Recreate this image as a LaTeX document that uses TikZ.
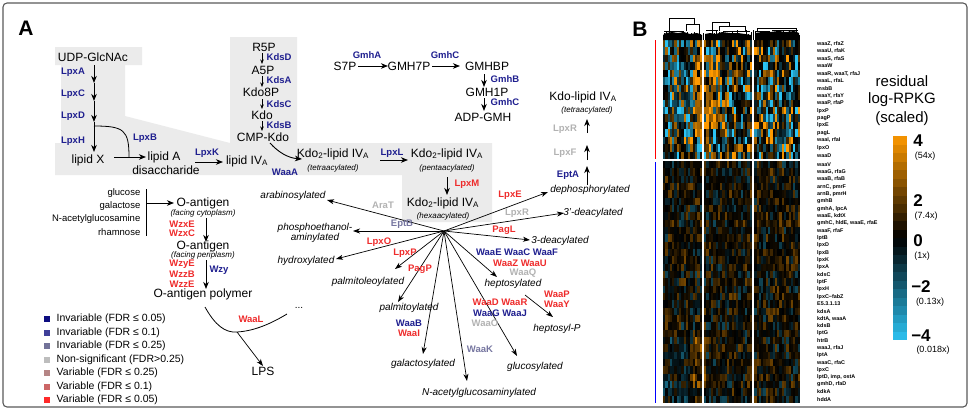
\documentclass[tikz,border=0pt]{standalone}
\usepackage{fontspec}
\setmainfont{Liberation Sans}
\usetikzlibrary{arrows.meta}
\definecolor{eblue}{HTML}{1F1F8F}
\definecolor{ered}{HTML}{EE2B2B}
\definecolor{egray}{HTML}{B2B2B2}
\definecolor{egbc}{HTML}{7676A0}
\definecolor{bgg}{HTML}{EBEBEB}
\definecolor{hmO}{HTML}{FF9A00}
\definecolor{hmC}{HTML}{2CC4F4}
\definecolor{lg1}{HTML}{0D0D80}
\definecolor{lg2}{HTML}{3F3F99}
\definecolor{lg3}{HTML}{737399}
\definecolor{lg4}{HTML}{BDBDBD}
\definecolor{lg5}{HTML}{B58585}
\definecolor{lg6}{HTML}{CC6666}
\definecolor{lg7}{HTML}{FF2A2A}
\begin{document}
\begin{tikzpicture}[x=1pt,y=-1pt,
 met/.style={font=\fontsize{12}{13}\selectfont, inner sep=0.5pt},
 enz/.style={font=\bfseries\fontsize{9.5}{10}\selectfont, inner sep=0.5pt},
 eb/.style={enz,text=eblue}, er/.style={enz,text=ered},
 eg/.style={enz,text=egray}, egbl/.style={enz,text=egbc},
 modl/.style={font=\itshape\fontsize{10}{10}\selectfont, inner sep=0.5pt},
 subl/.style={font=\itshape\fontsize{8}{9}\selectfont, inner sep=0.5pt},
 arr/.style={-{Stealth[length=7pt,width=5.5pt,inset=2pt]}, line width=0.9pt},
 sarr/.style={-{Stealth[length=4.5pt,width=3.5pt]}, line width=0.6pt},
 rarr/.style={-{Stealth[length=7pt,width=5pt,inset=2pt]}, line width=0.7pt},
 hml/.style={font=\bfseries\fontsize{5.4}{6}\selectfont, anchor=west, inner sep=0pt},
 sug/.style={font=\fontsize{9.5}{10}\selectfont, anchor=east, inner sep=0.5pt},
 lgt/.style={font=\fontsize{10.5}{11}\selectfont, anchor=west, inner sep=0.5pt},
 cbn/.style={font=\bfseries\fontsize{17}{17}\selectfont, inner sep=0pt},
 cbx/.style={font=\fontsize{9}{9}\selectfont, inner sep=0pt}
]
\useasboundingbox (0,0) rectangle (970,410);
\draw[line width=1.1pt, black!65, rounded corners=4pt] (3,3) rectangle (967,407);

% gray background
\fill[bgg] (55,47) -- (142,47) -- (142,65) -- (125,65) -- (125,116) -- (230,143) -- (230,37) -- (297,37) -- (297,143) -- (492,143) -- (492,222) -- (402,222) -- (402,175) -- (55,175) -- (55,143) -- (61,143) -- (61,65) -- (55,65) -- cycle;

\node[font=\bfseries\fontsize{21}{21}\selectfont] (labA) at (26,28) {A};
\node[font=\bfseries\fontsize{21}{21}\selectfont] (labB) at (640,29) {B};

% lipid A chain
\node[met] (udp) at (93,57) {UDP-GlcNAc};
\coordinate (c0) at (94,65); \coordinate (c1) at (94,83); \coordinate (c2) at (94,101);
\coordinate (c3) at (94,122); \coordinate (c4) at (94,152);
\draw[arr] (c0)--(c1); \draw[arr] (c1)--(c2); \draw[arr] (c2)--(c3); \draw[arr] (c3)--(c4);
\node[eb] (lpxA) at (73,72) {LpxA};
\node[eb] (lpxC) at (73,94) {LpxC};
\node[eb] (lpxD) at (73,116) {LpxD};
\node[eb] (lpxH) at (73,141) {LpxH};
\node[met] (lipx) at (88,160) {lipid X};
\coordinate (bst) at (94,126); \coordinate (bend) at (129,157);
\draw[line width=0.8pt] (bst) .. controls (124,126) and (129,130) .. (bend);
\node[eb] (lpxB) at (145,138) {LpxB};
\coordinate (xa1) at (114,157); \coordinate (xa2) at (146,157);
\draw[arr] (xa1)--(xa2);
\node[met] (lipa) at (164,157) {lipid A};
\node[met] (disac) at (166,170) {disaccharide};
\node[eb] (lpxK) at (207,153) {LpxK};
\coordinate (k1) at (195,162); \coordinate (k2) at (223,162);
\draw[arr] (k1)--(k2);
\node[met] (liv) at (247,161) {lipid IV\textsubscript{A}};

% Kdo chain
\node[met] (r5p) at (264,47) {R5P};
\node[met] (a5p) at (263,70) {A5P};
\node[met] (kdo8p) at (261,92) {Kdo8P};
\node[met] (kdo) at (262,115) {Kdo};
\node[met] (cmpkdo) at (263,137) {CMP-Kdo};
\coordinate (d1) at (262,53); \coordinate (d2) at (262,64);
\coordinate (d3) at (262,76); \coordinate (d4) at (262,87);
\coordinate (d5) at (262,99); \coordinate (d6) at (262,109);
\coordinate (d7) at (262,121); \coordinate (d8) at (262,131);
\draw[sarr] (d1)--(d2); \draw[sarr] (d3)--(d4); \draw[sarr] (d5)--(d6); \draw[sarr] (d7)--(d8);
\node[eb,anchor=west] (kdsD) at (266,57) {KdsD};
\node[eb,anchor=west] (kdsA) at (266,80) {KdsA};
\node[eb,anchor=west] (kdsC) at (266,104) {KdsC};
\node[eb,anchor=west] (kdsB) at (266,125) {KdsB};
\coordinate (w1) at (270,143); \coordinate (w2) at (302,159);
\draw[arr] (w1) .. controls (278,152) and (288,158) .. (w2);
\node[eb] (waaA) at (285,172) {WaaA};

\node[met] (k2t) at (333,154) {Kdo\textsubscript{2}-lipid IV\textsubscript{A}};
\node[subl] (k2ts) at (333,168) {(tetraacylated)};
\node[eb] (lpxL) at (392,153) {LpxL};
\coordinate (l1) at (380,160); \coordinate (l2) at (408,160);
\draw[arr] (l1)--(l2);
\node[met] (k2p) at (447,154) {Kdo\textsubscript{2}-lipid IV\textsubscript{A}};
\node[subl] (k2ps) at (447,168) {(pentaacylated)};
\coordinate (m1) at (447,177); \coordinate (m2) at (447,195);
\draw[arr] (m1)--(m2);
\node[er] (lpxM) at (467,184) {LpxM};
\node[met] (k2h) at (443,203) {Kdo\textsubscript{2}-lipid IV\textsubscript{A}};
\node[subl] (k2hs) at (443,216) {(hexaacylated)};

% heptose pathway
\node[met] (s7p) at (345,66) {S7P};
\node[met] (gmh7p) at (409,66) {GMH7P};
\node[met] (gmhbp) at (487,66) {GMHBP};
\node[met] (gmh1p) at (487,92) {GMH1P};
\node[met] (adpgmh) at (483,117) {ADP-GMH};
\coordinate (g1) at (358,66); \coordinate (g2) at (388,66);
\coordinate (g3) at (432,66); \coordinate (g4) at (460,66);
\coordinate (g5) at (484,74); \coordinate (g6) at (484,87);
\coordinate (g7) at (484,98); \coordinate (g8) at (484,111);
\draw[arr] (g1)--(g2); \draw[arr] (g3)--(g4); \draw[arr] (g5)--(g6); \draw[arr] (g7)--(g8);
\node[eb] (gmhA) at (367,55) {GmhA};
\node[eb] (gmhC1) at (445,55) {GmhC};
\node[eb,anchor=west] (gmhB) at (490,79) {GmhB};
\node[eb,anchor=west] (gmhC2) at (490,102) {GmhC};

% top right
\node[met] (kdolip) at (583,97) {Kdo-lipid IV\textsubscript{A}};
\node[subl] (kdolips) at (587,110) {(tetraacylated)};
\coordinate (t1) at (587,133); \coordinate (t2) at (587,119);
\coordinate (t3) at (587,160); \coordinate (t4) at (587,145);
\coordinate (t5) at (587,185); \coordinate (t6) at (587,166);
\draw[arr] (t1)--(t2); \draw[arr] (t3)--(t4); \draw[arr] (t5)--(t6);
\node[eg] (lpxR1) at (565,129) {LpxR};
\node[eg] (lpxF) at (565,153) {LpxF};
\node[eb] (eptA) at (568,175) {EptA};

% modifications
\coordinate (hub) at (444,231);
\node[modl] (deph) at (590,190) {dephosphorylated};
\node[modl] (d3p) at (593,213) {3'-deacylated};
\node[modl] (d3) at (560,241) {3-deacylated};
\node[modl] (arab) at (293,196) {arabinosylated};
\node[modl,align=center,font=\itshape\fontsize{10}{9}\selectfont] (phos) at (315,233) {phosphoethanol-\\aminylated};
\node[modl] (hydr) at (306,261) {hydroxylated};
\node[modl] (pleo) at (368,282) {palmitoleoylated};
\node[modl] (palm) at (409,308) {palmitoylated};
\node[modl] (gala) at (423,364) {galactosylated};
\node[modl] (nacg) at (479,393) {N-acetylglucosaminylated};
\node[modl] (gluc) at (535,367) {glucosylated};
\node[modl] (hept) at (513,284) {heptosylated};
\node[modl] (heptp) at (557,329) {heptosyl-P};

\coordinate (tdeph) at (548,192);
\coordinate (td3p) at (564,213);
\coordinate (td3) at (530,240);
\coordinate (tarab) at (327,200);
\coordinate (tphos) at (353,231);
\coordinate (thydr) at (336,259);
\coordinate (tpleo) at (395,269);
\coordinate (tpalm) at (398,302);
\coordinate (tgala) at (423,354);
\coordinate (tnacg) at (467,381);
\coordinate (tgluc) at (517,356);
\coordinate (thept) at (497,277);
\coordinate (hp1) at (525,295); \coordinate (hp2) at (553,317);
\foreach \t in {tdeph,td3p,td3,tarab,tphos,thydr,tpleo,tpalm,tgala,tnacg,tgluc,thept}
  \draw[rarr] (hub) -- (\t);
\draw[rarr] (hp1) -- (hp2);

\node[er] (lpxE) at (510,195) {LpxE};
\node[eg] (lpxR2) at (517,213) {LpxR};
\node[er] (pagL) at (504,230) {PagL};
\node[eg] (araT) at (383,205) {AraT};
\node[egbl] (eptB) at (402,224) {EptB};
\node[er] (lpxO) at (379,242) {LpxO};
\node[er] (lpxP) at (405,253) {LpxP};
\node[er] (pagP) at (420,269) {PagP};
\node[eb] (waaB) at (409,323) {WaaB};
\node[er] (waaI) at (409,333) {WaaI};
\node[egbl] (waaK) at (480,349) {WaaK};
\node[er] (waaDR) at (500,302) {WaaD WaaR};
\node[eb] (waaGJ) at (500,313) {WaaG WaaJ};
\node[eg] (waaO) at (485,323) {WaaO};
\node[eb] (waaECF) at (517,252) {WaaE WaaC WaaF};
\node[er] (waaZU) at (520,263) {WaaZ WaaU};
\node[eg] (waaQ) at (523,273) {WaaQ};
\node[er] (waaP) at (557,294) {WaaP};
\node[er] (waaY) at (557,304) {WaaY};

% O-antigen
\node[sug] (glc) at (141,193) {glucose};
\node[sug] (gal) at (141,206) {galactose};
\node[sug] (nag) at (141,219) {N-acetylglucosamine};
\node[sug] (rha) at (141,232) {rhamnose};
\coordinate (bar1) at (146,189); \coordinate (bar2) at (146,236);
\draw[line width=1pt] (bar1) -- (bar2);
\coordinate (o1) at (146,203); \coordinate (o2) at (174,203);
\draw[arr] (o1) -- (o2);
\node[met] (oa1) at (203,203) {O-antigen};
\node[subl] (oa1s) at (203,213) {(facing cytoplasm)};
\coordinate (o3) at (206,218); \coordinate (o4) at (206,242);
\draw[arr] (o3) -- (o4);
\node[er] (wzxE) at (182,224) {WzxE};
\node[er] (wzxC) at (182,233) {WzxC};
\node[met] (oa2) at (203,246) {O-antigen};
\node[subl] (oa2s) at (203,255) {(facing periplasm)};
\coordinate (o5) at (206,260); \coordinate (o6) at (206,289);
\draw[arr] (o5) -- (o6);
\node[er] (wzyE) at (182,264) {WzyE};
\node[er] (wzzB) at (182,274) {WzzB};
\node[er] (wzzE) at (182,284) {WzzE};
\node[eb] (wzy) at (219,270) {Wzy};
\node[met] (oap) at (203,294) {O-antigen polymer};
\coordinate (wl1) at (205,307); \coordinate (wl2) at (237,332); \coordinate (wl3) at (287,314);
\draw[line width=0.8pt] (wl1) .. controls (215,325) and (225,333) .. (wl2) .. controls (255,331) and (272,323) .. (wl3);
\node[font=\fontsize{10}{10}\selectfont] (dots) at (299,308) {...};
\node[er] (waaL) at (251,319) {WaaL};
\node[met] (lps) at (263,371) {LPS};
\draw[rarr] (wl2) -- (lps.north);

% legend
\foreach \i/\c/\y/\t in {1/lg1/319/Invariable (FDR ≤ 0.05),2/lg2/333/Invariable (FDR ≤ 0.1),3/lg3/346/Invariable (FDR ≤ 0.25),4/lg4/360/Non-significant (FDR>0.25),5/lg5/373/Variable (FDR ≤ 0.25),6/lg6/387/Variable (FDR ≤ 0.1),7/lg7/400/Variable (FDR ≤ 0.05)}{
  \fill[\c] (44,{\y-3}) rectangle ++(6,6);
  \node[lgt] (lg\i) at (56,\y) {\t};
}

% heatmap
\pgfmathsetseed{31}
\foreach \r in {0,...,48}{
  \ifnum\r<16
    \pgfmathsetmacro\yt{40+\r*7.44}\def\hh{7.5}\def\amp{1.25}
  \else
    \pgfmathsetmacro\yt{161+(\r-16)*7.33}\def\hh{7.4}\def\amp{0.42}
  \fi
  \foreach \c in {0,...,59}{
    \pgfmathsetmacro\xl{663+\c*2.2834}
    \pgfmathsetmacro\u{rand}
    \pgfmathsetmacro\b{(\r>=2)*(\r<=11)*(\c>=13)*(\c<=24)*0.6 - (\r>=3)*(\r<=12)*(\c>=2)*(\c<=11)*0.25 + (\r>=40)*(\r<=46)*(\c>=13)*(\c<=18)*0.3 - (\r>=40)*(\c<=10)*0.15 + (\r>=16)*0.04}
    \pgfmathsetmacro\v{\amp*\u*abs(\u)+\b}
    \pgfmathtruncatemacro\p{100*max(-1,min(1,\v))}
    \ifnum\p>0 \colorlet{hc}{hmO!\p!black}\else\pgfmathtruncatemacro\q{-\p}\colorlet{hc}{hmC!\q!black}\fi
    \fill[hc] (\xl,\yt) rectangle ++(2.4,\hh);
  }
}
\draw[white, line width=1.4pt] (703,38) -- (703,404);
\draw[white, line width=1.4pt] (753,38) -- (753,404);
\draw[white, line width=1.4pt] (662,160.3) -- (801,160.3);
\draw[red, line width=1pt] (655,40) -- (655,159);
\draw[blue, line width=1pt] (655,162) -- (655,403);

% dendrograms
\begin{scope}[line width=0.5pt]
\foreach \c in {0,...,59}{
  \pgfmathsetmacro\xl{664.1+\c*2.2834}
  \pgfmathsetmacro\yy{32.5+2.5*rand}
  \draw (\xl,40) -- (\xl,\yy);
}
\fill (663,40) -- (663,35) -- (666,33) -- (672,32) -- (678,33) -- (684,32) -- (690,34) -- (697,33) -- (702,35) -- (702,40) -- cycle;
\fill (705,40) -- (705,34) -- (710,33) -- (716,34) -- (722,32) -- (730,33) -- (738,33) -- (745,34) -- (751,35) -- (751,40) -- cycle;
\fill (755,40) -- (755,33) -- (762,32) -- (770,32) -- (778,31) -- (786,32) -- (794,31) -- (799,33) -- (799,40) -- cycle;
\draw (669,33) -- (669,18) -- (694,18) -- (694,24);
\draw (686,31) -- (686,24) -- (699,24) -- (699,40);
\draw (664,31) -- (684,31);
\draw (712,33) -- (712,22) -- (729,22) -- (729,26);
\draw (719,31) -- (719,26) -- (745,26) -- (745,31);
\draw (706,30) -- (718,30); \draw (723,31) -- (750,31);
\draw (757,32) -- (757,28) -- (796,28) -- (796,32);
\draw (756,31) -- (770,31); \draw (772,30) -- (798,30);
\end{scope}

% heatmap labels
\foreach \t [count=\i from 0] in {{waaZ, rfaZ},{waaU, rfaK},{waaS, rfaS},{waaW},{waaR, waaT, rfaJ},{waaL, rfaL},{msbB},{waaY, rfaY},{waaP, rfaP},{lpxP},{pagP},{lpxE},{pagL},{waaI, rfaI},{lpxO},{waaD}}
  \node[hml] (ht\i) at (817,{43.7+\i*7.44}) {\t};
\foreach \t [count=\i from 0] in {{waaV},{waaG, rfaG},{waaB, rfaB},{arnC, pmrF},{arnB, pmrH},{gmhB},{gmhA, lpcA},{waaE, kdtX},{gmhC, hldE, waaE, rfaE},{waaF, rfaF},{lptB},{lpxD},{lpxB},{lpxK},{lpxA},{kdsC},{lptF},{lpxH},{lpxC−fabZ},{E5.3.1.13},{kdsA},{kdtA, waaA},{kdsB},{lptG},{htrB},{waaJ, rfaJ},{lptA},{waaC, rfaC},{lpxC},{lptD, imp, ostA},{gmhD, rfaD},{kdkA},{hddA}}
  \node[hml] (hb\i) at (817,{164.7+\i*7.33}) {\t};

% colour bar
\foreach \k in {0,...,23}{
  \pgfmathtruncatemacro\p{100*(1-(\k+0.5)/12)}
  \ifnum\p>0 \colorlet{cb}{hmO!\p!black}\else\pgfmathtruncatemacro\q{-\p}\colorlet{cb}{hmC!\q!black}\fi
  \fill[cb] (893,{136+\k*8.5}) rectangle ++(14,8.6);
}
\node[font=\fontsize{15}{16}\selectfont] (res) at (902,81) {residual};
\node[font=\fontsize{15}{16}\selectfont] (lrp) at (902,100) {log-RPKG};
\node[font=\fontsize{15}{16}\selectfont] (scl) at (902,119) {(scaled)};
\node[cbn] (n4) at (918,141) {4};
\node[cbx] (n4x) at (925,156) {(54x)};
\node[cbn] (n2) at (918,201) {2};
\node[cbx] (n2x) at (926,216) {(7.4x)};
\node[cbn] (n0) at (918,241) {0};
\node[cbx] (n0x) at (922,256) {(1x)};
\node[cbn] (nm2) at (921,287) {−2};
\node[cbx] (nm2x) at (930,302) {(0.13x)};
\node[cbn] (nm4) at (921,336) {−4};
\node[cbx] (nm4x) at (933,350) {(0.018x)};
\end{tikzpicture}
\end{document}
